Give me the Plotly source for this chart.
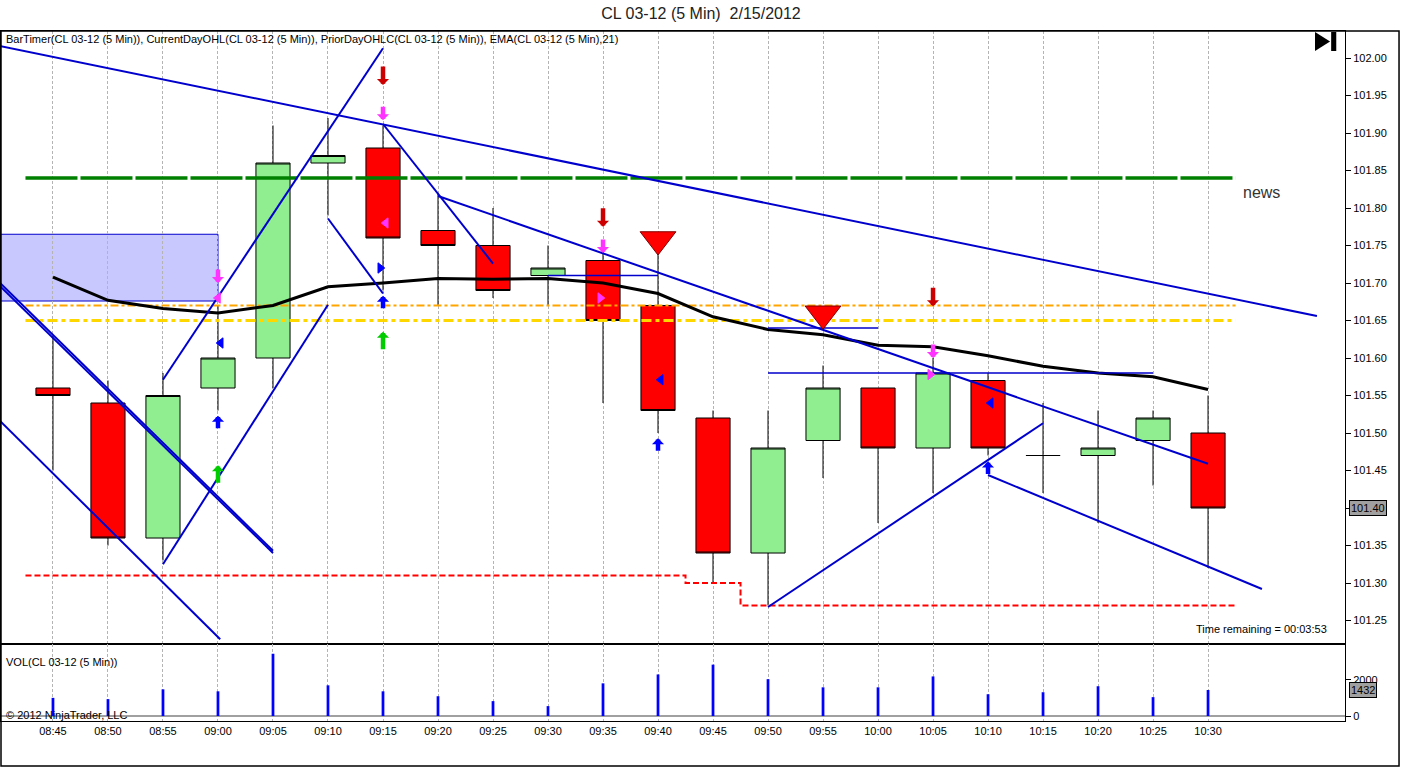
import plotly.graph_objects as go
from plotly.subplots import make_subplots

# CL 03-12 (5 Min) 2/15/2012
times = ["08:45", "08:50", "08:55", "09:00", "09:05", "09:10", "09:15", "09:20",
         "09:25", "09:30", "09:35", "09:40", "09:45", "09:50", "09:55", "10:00",
         "10:05", "10:10", "10:15", "10:20", "10:25", "10:30"]
opens = [101.56, 101.54, 101.36, 101.56, 101.60, 101.86, 101.88, 101.77, 101.75, 101.71, 101.73,
         101.67, 101.52, 101.34, 101.49, 101.56, 101.48, 101.57, 101.47, 101.47, 101.49, 101.50]
highs = [101.63, 101.57, 101.58, 101.67, 101.91, 101.92, 101.91, 101.82, 101.80, 101.75, 101.75,
         101.74, 101.53, 101.53, 101.59, 101.56, 101.60, 101.58, 101.54, 101.53, 101.53, 101.55]
lows = [101.45, 101.35, 101.33, 101.53, 101.56, 101.79, 101.69, 101.67, 101.68, 101.67, 101.54,
        101.50, 101.30, 101.27, 101.44, 101.38, 101.42, 101.47, 101.42, 101.38, 101.43, 101.32]
closes = [101.55, 101.36, 101.55, 101.60, 101.86, 101.87, 101.76, 101.75, 101.69, 101.72, 101.65,
          101.53, 101.34, 101.48, 101.56, 101.48, 101.58, 101.48, 101.47, 101.48, 101.52, 101.40]
ema21 = [101.708, 101.677, 101.666, 101.660, 101.670, 101.695, 101.700, 101.706, 101.705, 101.706,
         101.700, 101.686, 101.655, 101.638, 101.631, 101.617, 101.615, 101.603, 101.589, 101.580,
         101.575, 101.558]
volumes = [1000, 930, 1470, 1360, 3430, 1690, 1360, 1090, 820, 545, 1800,
           2290, 2830, 2030, 1580, 1580, 2180, 1200, 1310, 1640, 1040, 1432]
day_low = [101.31, 101.31, 101.31, 101.31, 101.31, 101.31, 101.31, 101.31, 101.31, 101.31, 101.31,
           101.31, 101.30, 101.27, 101.27, 101.27, 101.27, 101.27, 101.27, 101.27, 101.27, 101.27]

news_level = 101.84
day_open = 101.67
prior_close = 101.65
last_price = 101.40
last_volume = 1432

# lineas dibujadas a mano: (barra0, precio0, barra1, precio1)
trendlines = [
    (-0.96, 102.016, 22.98, 101.656),
    (2.0, 101.571, 6.0, 102.013),
    (2.0, 101.325, 5.0, 101.671),
    (5.0, 101.786, 6.0, 101.686),
    (6.0, 101.912, 8.0, 101.726),
    (7.0, 101.816, 21.0, 101.459),
    (13.0, 101.268, 18.0, 101.513),
    (17.0, 101.444, 21.98, 101.292),
    (-0.96, 101.700, 4.0, 101.343),
    (-0.96, 101.6955, 4.0, 101.340),
    (-0.96, 101.516, 3.04, 101.225),
]
hlines = [(9, 11, 101.71), (13, 15, 101.64), (13, 20, 101.58)]
zone = (-1.5, 3.0, 101.676, 101.765)

# flechas: (barra, precio de la punta)
red_down = [(6, 101.964), (10, 101.775), (16, 101.669)]
pink_down = [(3, 101.700), (6, 101.917), (10, 101.740), (16, 101.600)]
blue_up = [(3, 101.523), (6, 101.683), (11, 101.493), (17, 101.462)]
green_up = [(3, 101.457), (6, 101.635)]
blue_left = [(3.05, 101.620), (11.05, 101.571), (17.05, 101.540)]
blue_right = [(5.95, 101.720)]
pink_left = [(3.0, 101.680), (6.05, 101.780)]
pink_right = [(9.95, 101.680), (15.95, 101.578)]
big_down = [(11, 101.758), (14, 101.659)]

idx = list(range(len(times)))
FONT = "Liberation Sans, Arial, sans-serif"

fig = make_subplots(rows=2, cols=1, shared_xaxes=True, vertical_spacing=0,
                    row_heights=[0.8884, 0.1116])

fig.add_shape(type="rect", x0=zone[0], x1=zone[1], y0=zone[2], y1=zone[3],
              fillcolor="#C8C8FF", line=dict(color="#0000CD", width=1), layer="below", row=1, col=1)

for xs, lv, col, dash, w in [((-0.5, 21.5), news_level, "#008000", "52px,3px", 3.5),
                             ((-0.5, 21.5), day_open, "#FFA500", "8px,3px,3px,3px", 2),
                             ((-0.5, 21.5), prior_close, "#FFD700", "10px,4px,4px,4px", 3)]:
    fig.add_trace(go.Scatter(x=list(xs), y=[lv, lv], mode="lines",
                             line=dict(color=col, width=w, dash=dash), hoverinfo="skip"), row=1, col=1)

fig.add_trace(go.Scatter(x=[i - 0.5 for i in idx] + [idx[-1] + 0.5], y=day_low + [day_low[-1]],
                         mode="lines", line=dict(color="#FF0000", width=2, dash="6px,3px", shape="hv"),
                         hoverinfo="skip"), row=1, col=1)

fig.add_trace(go.Candlestick(x=idx, open=opens, high=highs, low=lows, close=closes,
                             increasing=dict(fillcolor="#90EE90", line=dict(color="black", width=1)),
                             decreasing=dict(fillcolor="#FF0000", line=dict(color="black", width=1)),
                             whiskerwidth=0), row=1, col=1)

fig.add_trace(go.Scatter(x=idx, y=ema21, mode="lines", line=dict(color="black", width=3)), row=1, col=1)

for x0, y0, x1, y1 in trendlines:
    fig.add_trace(go.Scatter(x=[x0, x1], y=[y0, y1], mode="lines",
                             line=dict(color="#0000CD", width=2), hoverinfo="skip"), row=1, col=1)
for x0, x1, lv in hlines:
    fig.add_trace(go.Scatter(x=[x0, x1], y=[lv, lv], mode="lines",
                             line=dict(color="#0000CD", width=1.5), hoverinfo="skip"), row=1, col=1)

for pts, sym, col, size in [(blue_left, "triangle-left", "#0000FF", 9),
                            (blue_right, "triangle-right", "#0000FF", 9),
                            (pink_left, "triangle-left", "#FF33FF", 9),
                            (pink_right, "triangle-right", "#FF33FF", 9),
                            (big_down, "triangle-down", "#FF0000", 31)]:
    fig.add_trace(go.Scatter(x=[p[0] for p in pts], y=[p[1] for p in pts], mode="markers",
                             marker=dict(symbol=sym, color=col, size=size,
                                         line=dict(color="#800000" if size > 20 else col, width=1)),
                             hoverinfo="skip"), row=1, col=1)

for pts, col, length in [(red_down, "#CC0000", -20), (pink_down, "#FF33FF", -15),
                         (blue_up, "#0000FF", 14), (green_up, "#00CC00", 19)]:
    for bx, py in pts:
        fig.add_annotation(x=bx, y=py, xref="x", yref="y", text="", showarrow=True,
                           ax=0, ay=length, arrowhead=1, arrowsize=0.45, arrowwidth=4.5,
                           arrowcolor=col, standoff=0)

fig.add_trace(go.Bar(x=idx, y=volumes, width=0.05, marker=dict(color="#0000FF", line_width=0)),
              row=2, col=1)

fig.add_annotation(x=21.98, y=101.821, text="news", showarrow=False, xref="x", yref="y",
                   font=dict(size=16, color="#333333", family=FONT))
fig.add_annotation(x=0.002, y=0.987, xref="x domain", yref="y domain", xanchor="left", yanchor="middle",
                   text="BarTimer(CL 03-12 (5 Min)), CurrentDayOHL(CL 03-12 (5 Min)), "
                        "PriorDayOHLC(CL 03-12 (5 Min)), EMA(CL 03-12 (5 Min),21)",
                   showarrow=False, font=dict(size=11, color="black", family=FONT))
fig.add_annotation(x=0.988, y=0.0245, xref="x domain", yref="y domain", xanchor="right", yanchor="middle",
                   text="Time remaining = 00:03:53", showarrow=False,
                   font=dict(size=11, color="black", family=FONT))
fig.add_annotation(x=0.002, y=0.766, xref="x2 domain", yref="y2 domain", xanchor="left", yanchor="middle",
                   text="VOL(CL 03-12 (5 Min))", showarrow=False,
                   font=dict(size=11, color="black", family=FONT))
fig.add_annotation(x=0.002, y=0.078, xref="x2 domain", yref="y2 domain", xanchor="left", yanchor="middle",
                   text="© 2012 NinjaTrader, LLC", showarrow=False,
                   font=dict(size=11, color="black", family=FONT))
fig.add_annotation(x=1.0, y=last_price, xref="x domain", yref="y", xanchor="left", xshift=4,
                   text=f"{last_price:.2f}", showarrow=False, bgcolor="#A0A0A0",
                   bordercolor="black", borderwidth=1, borderpad=1,
                   font=dict(size=11, color="black", family=FONT))
fig.add_annotation(x=1.0, y=last_volume, xref="x2 domain", yref="y2", xanchor="left", xshift=4,
                   text=str(last_volume), showarrow=False, bgcolor="#A0A0A0",
                   bordercolor="black", borderwidth=1, borderpad=1,
                   font=dict(size=11, color="black", family=FONT))

# boton "ir al final" y marco exterior
fig.add_shape(type="path", xref="paper", yref="paper", path="M 0.9777,0.9986 L 0.9777,0.9710 L 0.9889,0.9848 Z",
              fillcolor="black", line=dict(width=0))
fig.add_shape(type="rect", xref="paper", yref="paper", x0=0.9897, x1=0.9935, y0=0.9710, y1=0.9986,
              fillcolor="black", line=dict(width=0))
fig.add_shape(type="rect", xref="paper", yref="paper", x0=0, x1=1.0402, y0=-0.0652, y1=1,
              line=dict(color="black", width=1.5), fillcolor="rgba(0,0,0,0)")

price_ticks = [round(101.25 + 0.05 * k, 2) for k in range(16)]
fig.update_yaxes(row=1, col=1, side="right", range=[101.2187, 102.036], tickvals=price_ticks,
                 ticktext=["" if abs(t - last_price) < 1e-6 else f"{t:.2f}" for t in price_ticks],
                 ticks="outside", ticklen=5, tickcolor="black", showgrid=False, zeroline=False,
                 showline=True, linecolor="black", mirror=True,
                 tickfont=dict(size=11, color="black", family=FONT))
fig.update_yaxes(row=2, col=1, side="right", range=[-275, 3967], tickvals=[0, 2000],
                 ticks="outside", ticklen=5, tickcolor="black", showgrid=False,
                 zeroline=True, zerolinecolor="#A0A0A0", zerolinewidth=1.5,
                 showline=True, linecolor="black", mirror=True,
                 tickfont=dict(size=11, color="black", family=FONT))
fig.update_xaxes(range=[-0.945, 23.49], tickvals=idx, ticktext=times, showgrid=True,
                 gridcolor="#B4B4B4", griddash="3px,2px", gridwidth=1, zeroline=False,
                 showline=True, linecolor="black", mirror=True, ticks="",
                 tickfont=dict(size=11, color="black", family=FONT))
fig.update_xaxes(row=1, col=1, showticklabels=False, rangeslider_visible=False)

fig.update_layout(
    width=1402, height=767,
    margin=dict(l=1, r=57, t=31, b=46),
    paper_bgcolor="white", plot_bgcolor="white",
    showlegend=False,
    boxgap=0.38, boxgroupgap=0,
    title=dict(text="CL 03-12 (5 Min)\u00a0\u00a02/15/2012", x=0.5, xanchor="center",
               y=0.983, yanchor="middle", font=dict(size=16, color="#222222", family=FONT)),
    font=dict(family=FONT),
)

fig.write_html("out.html", config={"displayModeBar": False},
               post_script="document.body.style.margin='0';")
